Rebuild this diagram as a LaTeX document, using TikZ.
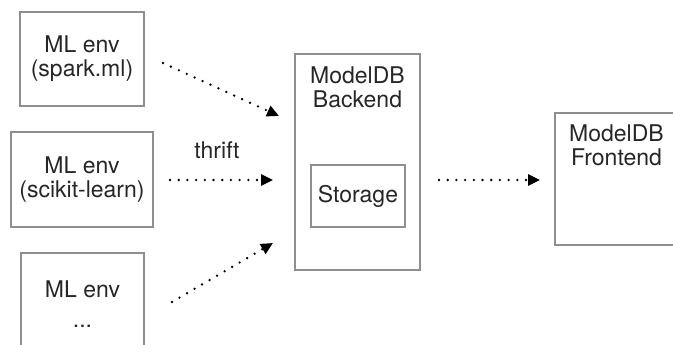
\documentclass[tikz,border=0pt]{standalone}
\usepackage{fontspec}
\setmainfont{TeX Gyre Heros}
\usetikzlibrary{arrows.meta}
\definecolor{boxgray}{HTML}{8E8E8E}
\definecolor{txtgray}{HTML}{262626}
\begin{document}
\begin{tikzpicture}[x=1pt,y=-1pt,
    every node/.style={font=\fontsize{23}{24}\selectfont,text=txtgray,align=center},
    box/.style={draw=boxgray,line width=1.4pt,inner sep=0pt},
    flow/.style={line width=2.6pt,dash pattern=on 0pt off 8.7pt,line cap=round,-{Triangle[length=12pt,width=11pt]}}]
    \useasboundingbox (0,0) rectangle (673,345);
    \node[box,minimum width=124pt,minimum height=94pt] (spark) at (82,59) {ML env\\(spark.ml)};
    \node[box,minimum width=142pt,minimum height=95pt] (scikit) at (82,179.5) {ML env\\(scikit-learn)};
    \node[box,minimum width=123pt,minimum height=102pt] (other) at (82.5,304) {ML env\\[6pt]...};
    \node[box,minimum width=125pt,minimum height=216pt] (backend) at (357.5,162) {};
    \node[anchor=north,inner sep=0pt] (backendname) at ([yshift=-13pt]backend.north) {ModelDB\\Backend};
    \node[box,minimum width=94pt,minimum height=62pt] (storage) at (358,196) {Storage};
    \node[box,minimum width=123pt,minimum height=132pt] (frontend) at (616.5,179) {};
    \node[anchor=north,inner sep=0pt] (frontendname) at ([yshift=-12pt]frontend.north) {ModelDB\\Frontend};
    \node (thrift) at (217,150) {thrift};
    \coordinate (sparkout) at (163,63);
    \coordinate (sparkin) at (279,116);
    \coordinate (scikitout) at (170,180);
    \coordinate (scikitin) at (273,180);
    \coordinate (otherout) at (172,302);
    \coordinate (otherin) at (273,243);
    \coordinate (backendout) at (439,180);
    \coordinate (frontendin) at (540,180);
    \draw[flow] (sparkout) -- (sparkin);
    \draw[flow] (scikitout) -- (scikitin);
    \draw[flow] (otherout) -- (otherin);
    \draw[flow] (backendout) -- (frontendin);
\end{tikzpicture}
\end{document}
